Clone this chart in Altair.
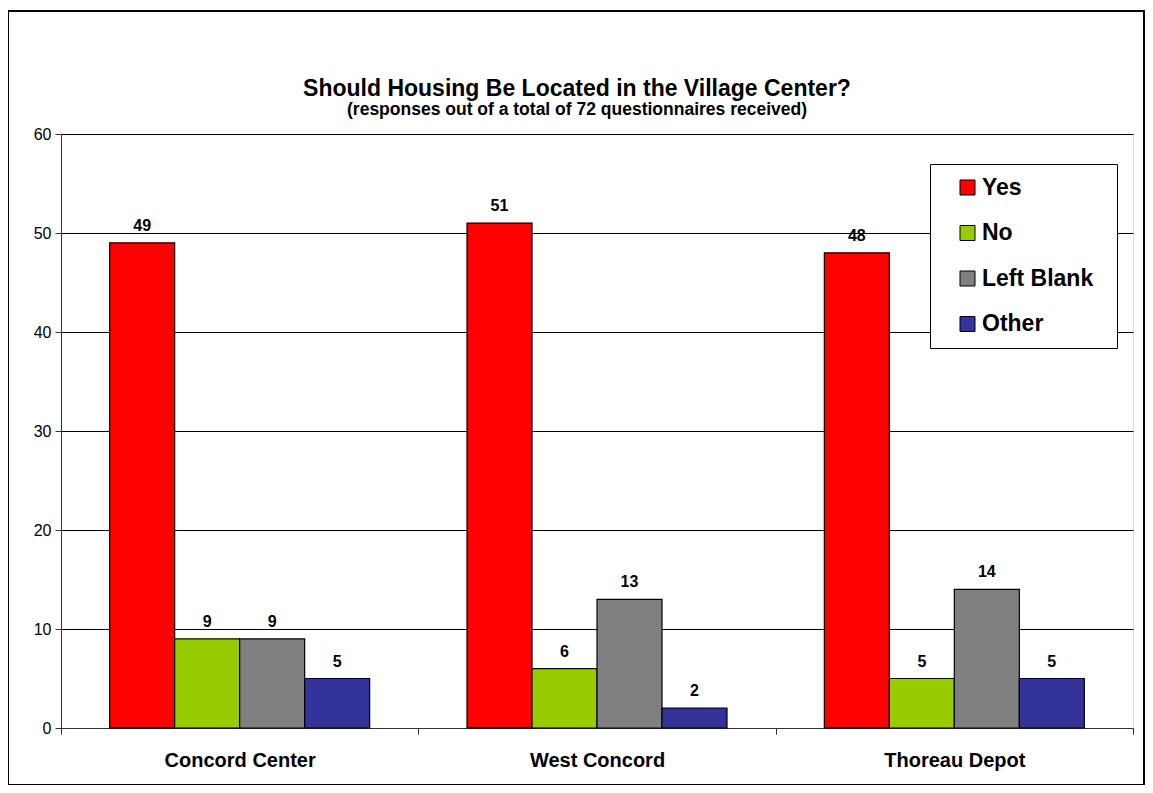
import altair as alt
import pandas as pd

groups = ["Concord Center", "West Concord", "Thoreau Depot"]
responses = ["Yes", "No", "Left Blank", "Other"]
yes = [49, 51, 48]
no = [9, 6, 5]
left_blank = [9, 13, 14]
other = [5, 2, 5]
colors = ["#FF0000", "#99CC00", "#808080", "#333399"]

rows = []
for i, g in enumerate(groups):
    for r, vals in zip(responses, [yes, no, left_blank, other]):
        rows.append({"group": g, "response": r, "count": vals[i]})
df = pd.DataFrame(rows)

FONT = "Liberation Sans"

x = alt.X("group:N", sort=groups, title=None,
          scale=alt.Scale(paddingInner=0, paddingOuter=0),
          axis=alt.Axis(labelAngle=0, labelFontSize=20, labelFontWeight="bold",
                        labelColor="black", labelPadding=16, tickBand="extent",
                        tickSize=6, tickColor="#333333", domainColor="#333333",
                        grid=False, labelFont=FONT))
xo = alt.XOffset("response:N", sort=responses,
                 scale=alt.Scale(paddingInner=0, paddingOuter=0.749))
y = alt.Y("count:Q", title=None,
          scale=alt.Scale(domain=[0, 60]),
          axis=alt.Axis(values=[0, 10, 20, 30, 40, 50, 60], labelFontSize=16,
                        labelColor="black", labelFont=FONT, tickSize=6,
                        tickColor="#333333", domainColor="#333333",
                        gridColor="#000000", gridWidth=1, labelPadding=4))

bars = alt.Chart(df).mark_bar(stroke="black", strokeWidth=1.2).encode(
    x=x, xOffset=xo, y=y,
    color=alt.Color("response:N", sort=responses,
                    scale=alt.Scale(domain=responses, range=colors),
                    legend=alt.Legend(title=".", titleOrient="right", titlePadding=9,
                                      titleColor="white", titleFontSize=10,
                                      orient="none", legendX=869, legendY=30,
                                      fillColor="white", strokeColor="black",
                                      padding=12, symbolOffset=14,
                                      labelFontSize=23, labelFontWeight="bold",
                                      labelFont=FONT, labelColor="black",
                                      symbolType="square", symbolSize=225,
                                      symbolStrokeColor="black", symbolStrokeWidth=1,
                                      symbolOpacity=1, rowPadding=21.5, labelOffset=3,
                                      offset=0))
)

labels = alt.Chart(df).mark_text(baseline="alphabetic", dy=-12, fontSize=16,
                                 fontWeight="bold", font=FONT, color="black").encode(
    x=x, xOffset=xo, y=y, text="count:Q"
)

border = alt.Chart(alt.Data(values=[{"a": 1}])).mark_rect(
    fill=None, stroke="black", strokeWidth=2, clip=False
).encode(x=alt.value(-53), x2=alt.value(1083), y=alt.value(-123), y2=alt.value(651))

chart = alt.layer(bars, labels, border).properties(
    width=1072, height=594,
    autosize=alt.AutoSizeParams(type="none"),
    padding={"left": 53, "top": 126, "right": 12, "bottom": 57},
    title=alt.TitleParams(
        text="Should Housing Be Located in the Village Center?",
        subtitle="(responses out of a total of 72 questionnaires received)",
        fontSize=23, font=FONT, fontWeight="bold", color="black",
        subtitleFontSize=17.5, subtitleFont=FONT, subtitleFontWeight="bold",
        subtitleColor="black", subtitlePadding=0,
        anchor="middle", frame="group", dx=-20, dy=108, offset=0
    )
).configure_view(fill="#C0C0C0", stroke="#808080", strokeWidth=1
).configure(background="white")

chart.save("out.html", embed_options={"renderer": "svg", "actions": False})
